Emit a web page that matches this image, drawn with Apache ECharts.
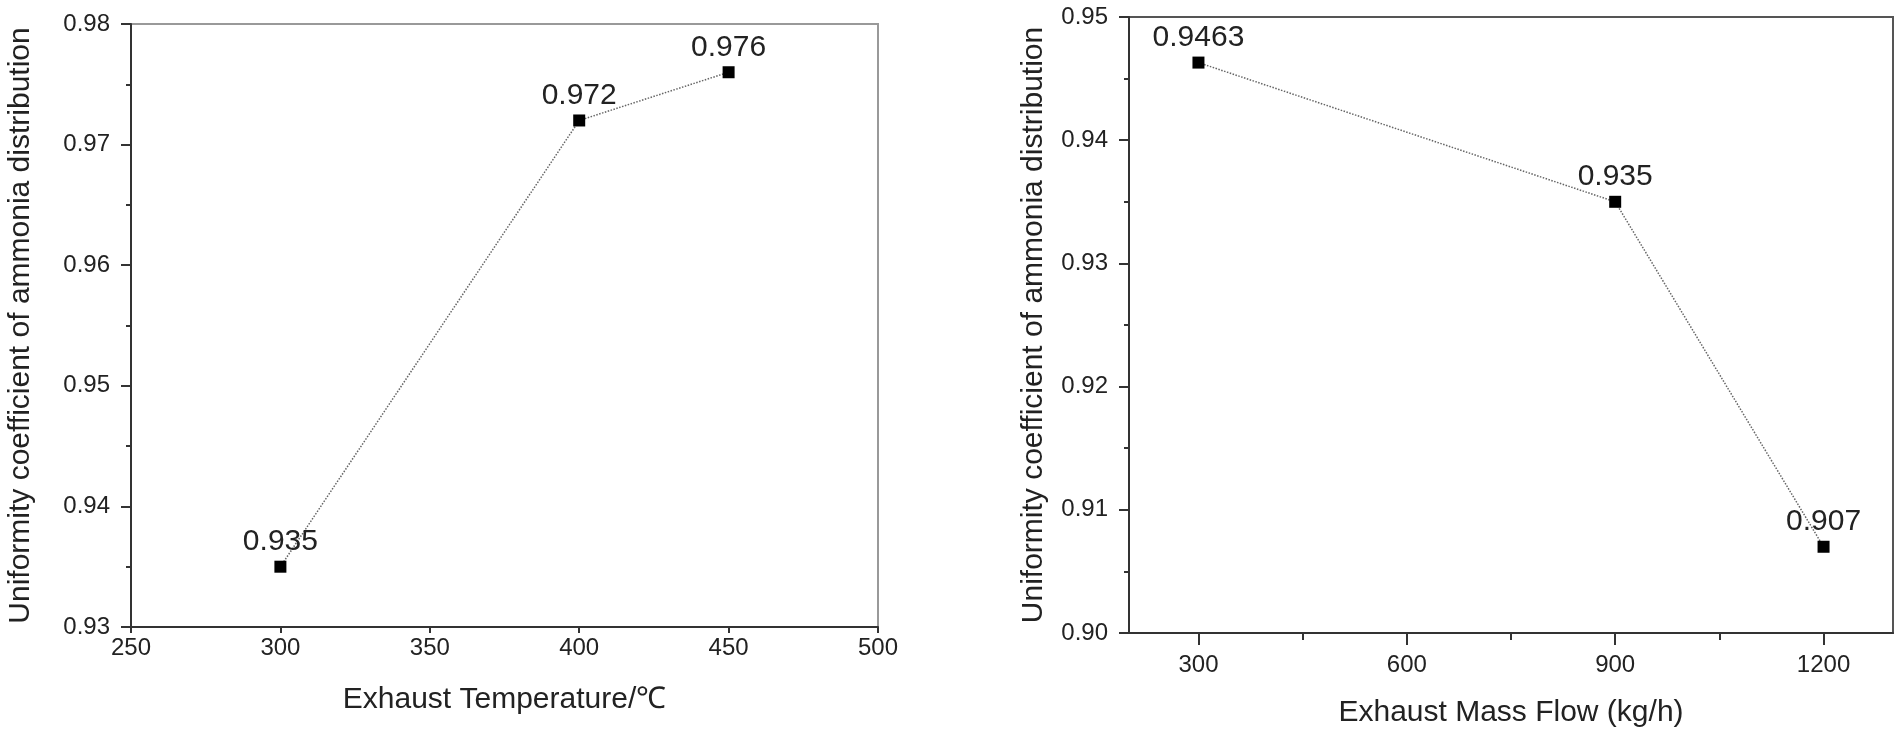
<!DOCTYPE html>
<html>
<head>
<meta charset="utf-8">
<script src="https://cdn.jsdelivr.net/npm/echarts@6/dist/echarts.min.js"></script>
<style>
  html, body { margin: 0; padding: 0; background: #fff; }
  #chart { width: 1900px; height: 737px; }
</style>
</head>
<body>
<div id="chart"></div>
<script>
// left panel: exhaust temperature
const tempX = [300, 400, 450]
const tempY = [0.935, 0.972, 0.976]
// right panel: exhaust mass flow
const flowX = [300, 900, 1200]
const flowY = [0.9463, 0.935, 0.907]
const flowMajorTicks = [300, 600, 900, 1200]
const flowMinorTicks = [450, 750, 1050]

const yTitle = 'Uniformity coefficient of ammonia distribution'
const font = '"Liberation Sans", Arial, sans-serif'
const textColor = '#222'
const axisColor = '#333'

const chart = echarts.init(document.getElementById('chart'))

const pairs = (xs, ys) => xs.map((x, i) => [x, ys[i]])

const yAxisBase = (gridIndex, min, max, nameGap) => ({
  type: 'value',
  gridIndex: gridIndex,
  min: min,
  max: max,
  interval: 0.01,
  name: yTitle,
  nameLocation: 'middle',
  nameGap: nameGap,
  nameTextStyle: { fontFamily: font, fontSize: 30, color: textColor },
  axisLine: { show: true, lineStyle: { color: axisColor, width: 2 } },
  axisTick: { show: true, length: 10, lineStyle: { color: axisColor, width: 2 } },
  minorTick: { show: true, splitNumber: 2, length: 5, lineStyle: { color: axisColor, width: 2 } },
  splitLine: { show: false },
  axisLabel: {
    margin: 21,
    fontFamily: font,
    fontSize: 24,
    color: textColor,
    formatter: (v) => v.toFixed(2),
  },
})

const lineSeries = (xi, yi, data) => ({
  type: 'line',
  xAxisIndex: xi,
  yAxisIndex: yi,
  data: data,
  symbol: 'rect',
  symbolSize: 12,
  itemStyle: { color: '#000' },
  lineStyle: { color: '#666', width: 1.5, type: 'dotted' },
  label: {
    show: true,
    position: 'top',
    distance: 4,
    fontFamily: font,
    fontSize: 30,
    color: textColor,
    formatter: (p) => String(p.value[1]),
  },
  animation: false,
})

const option = {
  backgroundColor: '#fff',
  animation: false,
  grid: [
    { left: 131, right: 1022, top: 24, bottom: 110, show: true, borderColor: '#999', borderWidth: 2 },
    { left: 1129, right: 7, top: 17, bottom: 104, show: true, borderColor: '#555', borderWidth: 2 },
  ],
  xAxis: [
    {
      type: 'value',
      gridIndex: 0,
      min: 250,
      max: 500,
      interval: 50,
      name: 'Exhaust Temperature/℃',
      nameLocation: 'middle',
      nameGap: 58,
      nameTextStyle: { fontFamily: font, fontSize: 30, color: textColor },
      axisLine: { show: true, lineStyle: { color: axisColor, width: 2 } },
      axisTick: { show: true, length: 6, lineStyle: { color: axisColor, width: 2 } },
      splitLine: { show: false },
      axisLabel: { margin: 9, fontFamily: font, fontSize: 24, color: textColor },
    },
    {
      type: 'value',
      gridIndex: 1,
      min: 200,
      max: 1300,
      name: 'Exhaust Mass Flow (kg/h)',
      nameLocation: 'middle',
      nameGap: 65,
      nameTextStyle: { fontFamily: font, fontSize: 30, color: textColor },
      axisLine: { show: true, lineStyle: { color: axisColor, width: 2 } },
      axisTick: { show: true, length: 12, customValues: flowMajorTicks, lineStyle: { color: axisColor, width: 2 } },
      splitLine: { show: false },
      axisLabel: {
        margin: 20,
        customValues: flowMajorTicks,
        fontFamily: font,
        fontSize: 24,
        color: textColor,
        formatter: (v) => String(v),
      },
    },
    {
      // minor ticks of the mass flow axis
      type: 'value',
      gridIndex: 1,
      min: 200,
      max: 1300,
      position: 'bottom',
      axisLine: { show: false },
      axisTick: { show: true, length: 7, customValues: flowMinorTicks, lineStyle: { color: axisColor, width: 2 } },
      axisLabel: { show: false },
      splitLine: { show: false },
    },
  ],
  yAxis: [
    yAxisBase(0, 0.93, 0.98, 95),
    yAxisBase(1, 0.9, 0.95, 80),
  ],
  series: [
    lineSeries(0, 0, pairs(tempX, tempY)),
    lineSeries(1, 1, pairs(flowX, flowY)),
  ],
}

chart.setOption(option)
</script>
</body>
</html>
